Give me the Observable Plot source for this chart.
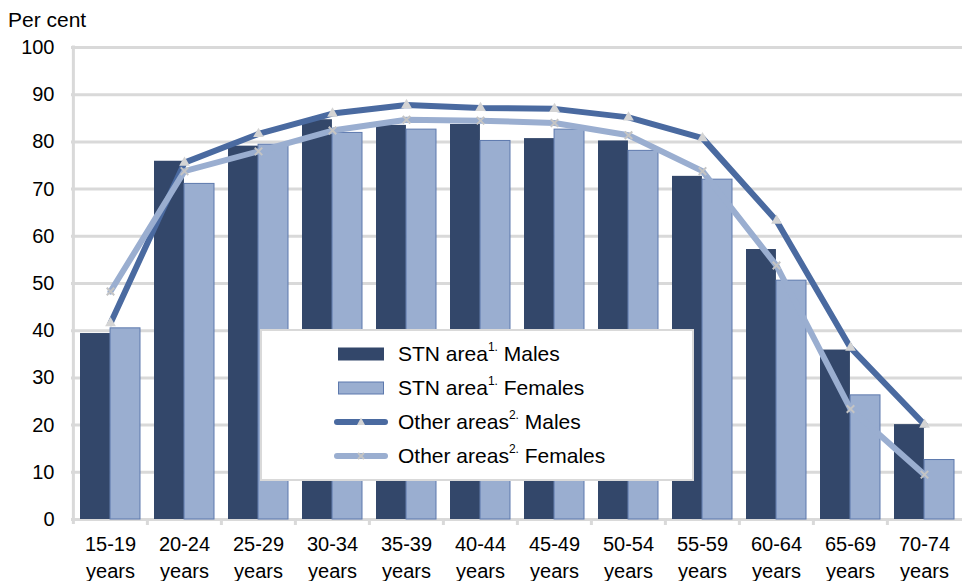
<!DOCTYPE html>
<html>
<head>
<meta charset="utf-8">
<script src="https://cdn.jsdelivr.net/npm/d3@7"></script>
<script src="https://cdn.jsdelivr.net/npm/@observablehq/plot@0.6"></script>
<style>
  body { margin: 0; background: #fff; font-family: "Liberation Sans", Arial, sans-serif; }
  #wrap { position: relative; width: 962px; height: 581px; }
  #ylabel { position: absolute; left: 8px; top: 8px; font-size: 21px; line-height: 24px; color: #000; }
  #legend { position: absolute; left: 260px; top: 329px; width: 430px; height: 148px; background: #fff;
            border: 2px solid #d9d9d9; box-sizing: content-box; }
  .row { position: absolute; left: 72px; height: 30px; display: flex; align-items: center; font-size: 21px; color: #000; white-space: nowrap; }
  .row svg { margin-right: 8px; }
  sup { font-size: 12px; vertical-align: 10px; line-height: 0; }
</style>
</head>
<body>
<div id="wrap">
  <div id="chart"></div>
  <div id="ylabel">Per cent</div>
  <div id="legend"></div>
</div>
<script>
const categories = ["15-19","20-24","25-29","30-34","35-39","40-44","45-49","50-54","55-59","60-64","65-69","70-74"];
const stnMales     = [39.4, 75.9, 79.1, 84.7, 83.5, 83.7, 80.7, 80.2, 72.7, 57.2, 35.9, 20.1];
const stnFemales   = [40.5, 71.1, 79.4, 81.9, 82.6, 80.2, 82.6, 78.1, 72.0, 50.6, 26.3, 12.6];
const otherMales   = [41.6, 75.6, 81.7, 86.0, 87.8, 87.2, 87.0, 85.2, 80.8, 63.3, 36.4, 20.1];
const otherFemales = [48.3, 73.8, 78.0, 82.4, 84.7, 84.5, 84.0, 81.4, 73.8, 53.8, 23.4, 9.5];
const yTicks = [0,10,20,30,40,50,60,70,80,90,100];
const seriesNames = ["STN area", "STN area", "Other areas", "Other areas"];
const seriesSup = ["1.", "1.", "2.", "2."];
const seriesSex = ["Males", "Females", "Males", "Females"];

const rows = categories.map((c, i) => ({cat: c, sm: stnMales[i], sf: stnFemales[i], om: otherMales[i], of: otherFemales[i]}));

const W = 962, H = 581, mL = 71, mR = 0, mT = 47, mB = 62;
const padIn = 0.19, padOut = 0.095;
const step = (W - mL - mR) / categories.length;
const bw = step * (1 - padIn);

const cDarkBar = "#33476a", cLightBar = "#9aaed0", cLightStroke = "#5d79ad";
const cMaleLine = "#4a6aa0", cFemLine = "#9aaed0";
const grid = "#d9d9d9";

const chart = Plot.plot({
  width: W, height: H,
  marginLeft: mL, marginRight: mR, marginTop: mT, marginBottom: mB,
  style: {fontFamily: "'Liberation Sans', Arial, sans-serif", fontSize: "20px", color: "#000", background: "transparent"},
  x: {domain: categories, paddingInner: padIn, paddingOuter: padOut, axis: null},
  y: {domain: [0, 100], axis: null},
  marks: [
    Plot.gridY(yTicks, {stroke: grid, strokeWidth: 3, strokeOpacity: 1}),
    Plot.ruleX([categories[0]], {dx: -step / 2, y1: 100, y2: 0, insetTop: -1.5, insetBottom: -5, stroke: grid, strokeWidth: 3}),
    Plot.ruleY([0], {stroke: grid, strokeWidth: 3}),
    Plot.ruleX(categories.slice(1), {dx: -step / 2, y1: 0, y2: 0, insetBottom: -6, stroke: grid, strokeWidth: 3}),
    Plot.barY(rows, {x: "cat", y: "sm", fill: cDarkBar, insetRight: bw / 2}),
    Plot.barY(rows, {x: "cat", y: "sf", fill: cLightBar, stroke: cLightStroke, strokeWidth: 1, insetLeft: bw / 2}),
    Plot.lineY(rows, {x: "cat", y: "om", stroke: cMaleLine, strokeWidth: 6, curve: "linear", strokeLinejoin: "round"}),
    Plot.lineY(rows, {x: "cat", y: "of", stroke: cFemLine, strokeWidth: 6, curve: "linear", strokeLinejoin: "round"}),
    Plot.dot(rows, {x: "cat", y: "om", symbol: "triangle", r: 4, fill: "#d4d4d4", stroke: "none"}),
    Plot.dot(rows, {x: "cat", y: "of", symbol: "times", r: 3.5, stroke: "#c4c4c4", strokeWidth: 2}),
    Plot.axisY(yTicks, {tickSize: 0, tickPadding: 17, fontSize: 20}),
    Plot.axisX({tickSize: 0, tickPadding: 12, fontSize: 20, lineHeight: 1.35, label: null, tickFormat: d => d + "\nyears"})
  ]
});
document.getElementById("chart").appendChild(chart);

// legend
const legend = document.getElementById("legend");
const swatches = [
  `<svg width="56" height="20"><rect x="4" y="3.5" width="46" height="13" fill="${cDarkBar}"/></svg>`,
  `<svg width="56" height="20"><rect x="4.5" y="4" width="45" height="12" fill="${cLightBar}" stroke="${cLightStroke}" stroke-width="1"/></svg>`,
  `<svg width="56" height="20"><line x1="3" x2="51" y1="10" y2="10" stroke="${cMaleLine}" stroke-width="6" stroke-linecap="round"/><path d="M27,5.5 L31,13 L23,13 Z" fill="#d4d4d4"/></svg>`,
  `<svg width="56" height="20"><line x1="3" x2="51" y1="10" y2="10" stroke="${cFemLine}" stroke-width="6" stroke-linecap="round"/><path d="M24,7 L30,13 M30,7 L24,13" stroke="#c4c4c4" stroke-width="2"/></svg>`
];
const rowTops = [8, 42, 76, 110];
seriesNames.forEach((n, i) => {
  const r = document.createElement("div");
  r.className = "row";
  r.style.top = rowTops[i] + "px";
  r.innerHTML = swatches[i] + `<span>${n}<sup>${seriesSup[i]}</sup> ${seriesSex[i]}</span>`;
  legend.appendChild(r);
});
</script>
</body>
</html>
